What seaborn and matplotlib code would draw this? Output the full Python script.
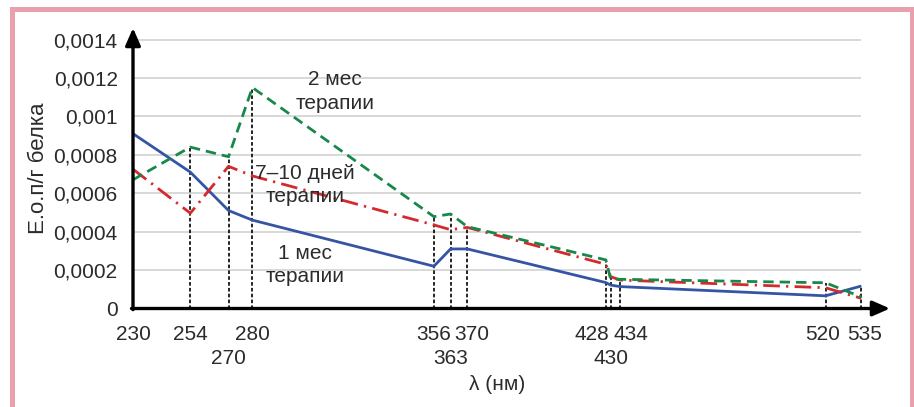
import matplotlib
matplotlib.use("Agg")
import matplotlib.pyplot as plt
import seaborn as sns
import pandas as pd
import numpy as np
from matplotlib.patches import Rectangle

# ---- data ----
wavelengths = [230, 254, 270, 280, 356, 363, 370, 428, 430, 434, 520, 535]
month1 = [0.00091, 0.00071, 0.00051, 0.00046, 0.00022, 0.00031, 0.00031, 0.000135, 0.000122, 0.000114, 0.000066, 0.000117]
days7_10 = [0.000725, 0.000496, 0.00074, 0.00069, 0.000435, 0.00041, 0.000422, 0.00023, 0.000166, 0.000148, 0.000108, 0.000053]
month2 = [0.00067, 0.00084, 0.00079, 0.00115, 0.000478, 0.000492, 0.000426, 0.000253, 0.000154, 0.000152, 0.000134, 0.00006]
row1_ticks = [230, 254, 280, 356, 370, 428, 434, 520, 535]
row2_ticks = [270, 363, 430]
y_ticks = [0, 0.0002, 0.0004, 0.0006, 0.0008, 0.001, 0.0012, 0.0014]
y_tick_labels = ["0", "0,0002", "0,0004", "0,0006", "0,0008", "0,001", "0,0012", "0,0014"]
series_names = ["1 мес\nтерапии", "7–10 дней\nтерапии", "2 мес\nтерапии"]

sns.set_theme(style="white")
plt.rcParams["font.family"] = ["Liberation Sans", "DejaVu Sans"]
plt.rcParams["lines.scale_dashes"] = False
TXT = "#2b2b2b"

fig = plt.figure(figsize=(9.14, 4.07), dpi=100)
ax = fig.add_axes([133 / 914, 1 - 308.5 / 407, 757 / 914, 280.5 / 407])
ax.set_xlim(230, 547)
ax.set_ylim(0, 0.00146)

# gridlines
ax.hlines(y_ticks[1:], 230, 535, color="#d6d6d6", lw=1.3, zorder=0)

df = pd.DataFrame({"wl": wavelengths, "m1": month1, "d": days7_10, "m2": month2})

# vertical dotted lines up to the max value
vmax = np.max(np.vstack([month1, days7_10, month2]), axis=0)
ax.vlines(wavelengths, 0, vmax, colors="black", lw=1.2, linestyles=[(0, (2.6, 1.6))], zorder=2)

sns.lineplot(data=df, x="wl", y="m1", ax=ax, color="#3554a4", lw=2.0, zorder=3)
ax.lines[-1].set_solid_capstyle("butt")
sns.lineplot(data=df, x="wl", y="d", ax=ax, color="#d42a2e", lw=2.0, zorder=3)
ax.lines[-1].set_dashes((12, 4.5, 1.6, 4.5))
sns.lineplot(data=df, x="wl", y="m2", ax=ax, color="#17884a", lw=2.0, zorder=4)
ax.lines[-1].set_dashes((7.5, 4.3))

for s in ax.spines.values():
    s.set_visible(False)
ax.set_xlabel("")
ax.set_ylabel("")
ax.set_xticks([])
ax.set_yticks(y_ticks)
ax.set_yticklabels(y_tick_labels, fontsize=15, color=TXT)
ax.tick_params(axis="y", length=0, pad=11)

# axes with arrows
arrow = dict(arrowstyle="-|>,head_length=0.8,head_width=0.35", lw=2.4, color="black",
             shrinkA=0, shrinkB=0, mutation_scale=13)
ax.annotate("", xy=(1.0, 0), xytext=(-0.002, 0), xycoords="axes fraction", arrowprops=arrow,
            annotation_clip=False, zorder=6)
ax.annotate("", xy=(0, 1.0), xytext=(0, -0.004), xycoords="axes fraction", arrowprops=arrow,
            annotation_clip=False, zorder=6)

# x tick labels in two rows (pixel shifts to avoid overlap)
shift = {370: 4, 428: -14, 434: 11, 520: -3, 535: 3}
for v in row1_ticks:
    ax.annotate(str(v), xy=(v, 0), xytext=(shift.get(v, 0) * 0.72, -19), textcoords="offset points",
                ha="center", va="center", fontsize=15, color=TXT, annotation_clip=False)
for v in row2_ticks:
    ax.annotate(str(v), xy=(v, 0), xytext=(0, -36), textcoords="offset points",
                ha="center", va="center", fontsize=15, color=TXT, annotation_clip=False)

fig.text(497 / 914, 1 - 385 / 407, "λ (нм)", ha="center", va="center", fontsize=15, color=TXT)
fig.text(38 / 914, 1 - 168 / 407, "Е.о.п/г белка", ha="center", va="center", rotation=90,
         fontsize=16, color=TXT)

# series labels
ax.text(314.5, 0.00113, series_names[2], ha="center", va="center", fontsize=15, color=TXT,
        linespacing=1.3, zorder=5)
ax.text(302, 0.000643, series_names[1], ha="center", va="center", fontsize=15, color=TXT,
        linespacing=1.3, zorder=5)
ax.text(302, 0.000227, series_names[0], ha="center", va="center", fontsize=15, color=TXT,
        linespacing=1.3, zorder=5)

# pink frame
fig.patches.append(Rectangle((11.5 / 914, -0.1), 900 / 914, 1.1 - 9.5 / 407, transform=fig.transFigure,
                             fill=False, edgecolor="#e8a1ac", lw=3.6, zorder=10))

fig.savefig("out.png", dpi=100)
